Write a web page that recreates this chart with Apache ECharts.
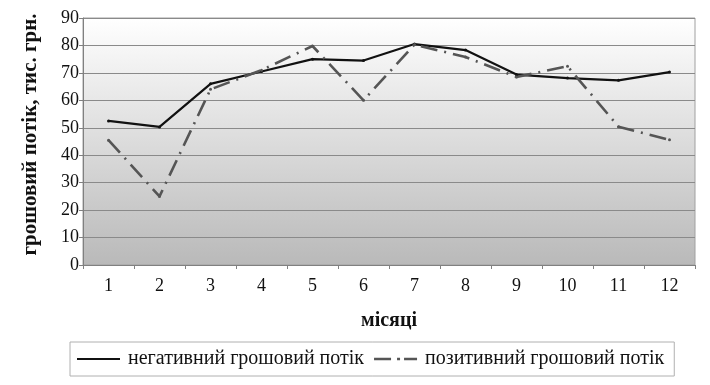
<!DOCTYPE html>
<html><head><meta charset="utf-8">
<script src="https://cdn.jsdelivr.net/npm/echarts@6/dist/echarts.min.js"></script>
<style>html,body{margin:0;padding:0;background:#fff}#c{width:710px;height:385px}</style>
</head><body><div id="c"></div>
<script>
var months = ['1','2','3','4','5','6','7','8','9','10','11','12'];
var negative = [52.5, 50.3, 66, 70.5, 75, 74.5, 80.5, 78.3, 69.4, 68.1, 67.3, 70.3];
var positive = [45.5, 25, 64, 71, 79.8, 60, 80.3, 75.8, 68.5, 72.4, 50.4, 45.6];
var yTicks = [0, 10, 20, 30, 40, 50, 60, 70, 80, 90];
var seriesNames = ['негативний грошовий потік', 'позитивний грошовий потік'];
var font = 'Liberation Serif';
var chart = echarts.init(document.getElementById('c'));
chart.setOption({
  animation: false,
  textStyle: {fontFamily: font},
  grid: {
    left: 83, right: 15, top: 18, bottom: 120, show: true,
    borderColor: '#a0a0a0', borderWidth: 1,
    backgroundColor: {type: 'linear', x: 0, y: 0, x2: 0, y2: 1,
      colorStops: [{offset: 0, color: '#ffffff'}, {offset: 1, color: '#b9b9b9'}]}
  },
  legend: {
    left: 70, top: 342, orient: 'horizontal',
    padding: [7, 10, 7, 7],
    borderColor: '#b0b0b0', borderWidth: 1,
    itemWidth: 43, itemHeight: 10, itemGap: 10,
    textStyle: {fontFamily: font, fontSize: 20, color: '#111', padding: [0, 0, 0, 3]},
    data: [
      {name: seriesNames[0], icon: 'path://M0,4h43v2.2h-43z', itemStyle: {color: '#111'}},
      {name: seriesNames[1], icon: 'path://M0,4h17v2.5h-17zM23,4h3v2.5h-3zM30,4h13v2.5h-13z', itemStyle: {color: '#555'}}
    ]
  },
  xAxis: {
    type: 'category', data: months, boundaryGap: true,
    name: 'місяці', nameLocation: 'middle', nameGap: 46,
    nameTextStyle: {fontFamily: font, fontSize: 20, fontWeight: 'bold', color: '#111'},
    axisLine: {lineStyle: {color: '#808080'}},
    axisTick: {show: true, length: 4, lineStyle: {color: '#808080'}},
    axisLabel: {fontFamily: font, fontSize: 18, color: '#111', margin: 12}
  },
  yAxis: {
    type: 'value', min: yTicks[0], max: yTicks[yTicks.length - 1], interval: 10,
    name: 'грошовий потік, тис. грн.', nameLocation: 'middle', nameGap: 42,
    nameTextStyle: {fontFamily: font, fontSize: 21, fontWeight: 'bold', color: '#111', padding: [0, 0, 0, 14]},
    axisLine: {show: true, lineStyle: {color: '#808080'}},
    axisTick: {show: true, length: 4, lineStyle: {color: '#808080'}},
    axisLabel: {fontFamily: font, fontSize: 18, color: '#111', margin: 4},
    splitLine: {lineStyle: {color: '#8a8a8a', width: 1}}
  },
  series: [
    {name: seriesNames[0], type: 'line', data: negative,
     symbol: 'circle', symbolSize: 3,
     itemStyle: {color: '#111'},
     lineStyle: {color: '#111', width: 2.2}},
    {name: seriesNames[1], type: 'line', data: positive,
     symbol: 'circle', symbolSize: 3,
     itemStyle: {color: '#555'},
     lineStyle: {color: '#555', width: 2.6, type: [17, 7, 2, 7]}}
  ]
});
</script></body></html>
